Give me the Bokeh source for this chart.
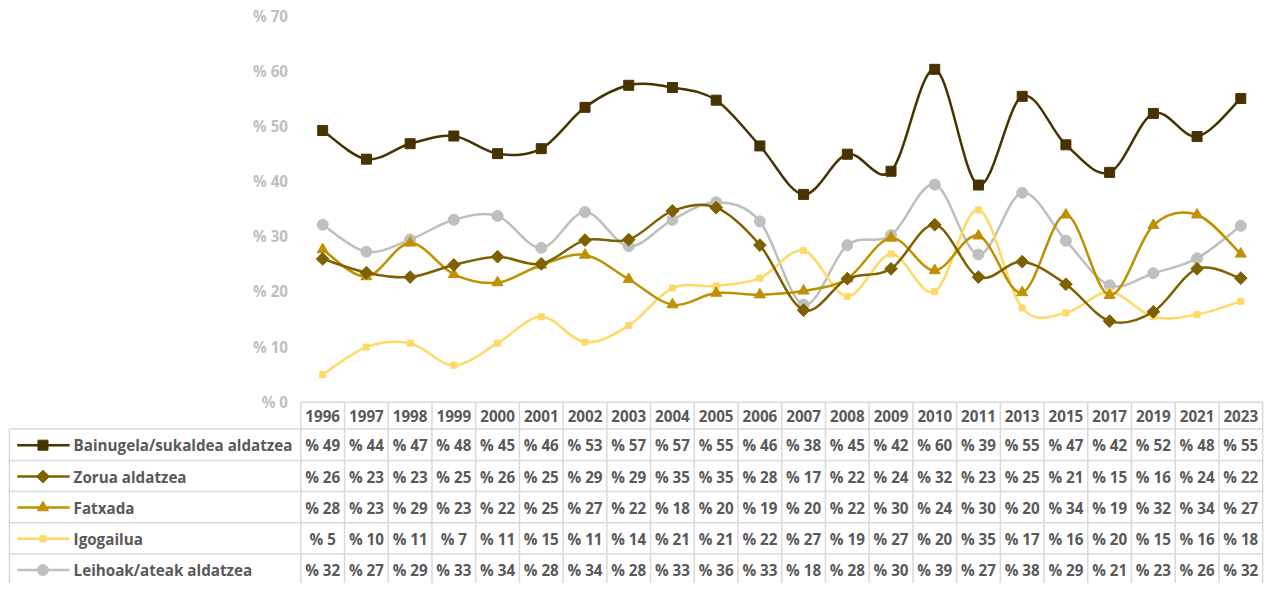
import numpy as np
from bokeh.plotting import figure
from bokeh.models import Range1d, ColumnDataSource
from bokeh.core.properties import value
from bokeh.embed import file_html
from bokeh.resources import INLINE

# ---------------- data ----------------
years = ["1996", "1997", "1998", "1999", "2000", "2001", "2002", "2003", "2004", "2005", "2006",
         "2007", "2008", "2009", "2010", "2011", "2013", "2015", "2017", "2019", "2021", "2023"]

bainugela = [49.2, 44.0, 46.8, 48.2, 45.0, 45.9, 53.4, 57.4, 57.0, 54.7, 46.4,
             37.6, 44.9, 41.8, 60.3, 39.3, 55.4, 46.6, 41.6, 52.3, 48.1, 55.0]
zorua = [25.9, 23.4, 22.6, 24.8, 26.3, 25.0, 29.3, 29.4, 34.6, 35.2, 28.4,
         16.6, 22.3, 24.1, 32.1, 22.6, 25.4, 21.3, 14.6, 16.3, 24.1, 22.4]
fatxada = [27.6, 22.7, 28.8, 23.1, 21.6, 24.8, 26.6, 22.2, 17.6, 19.7, 19.4,
           20.1, 22.3, 29.7, 23.8, 30.1, 19.8, 33.9, 19.3, 32.0, 33.9, 26.8]
igogailua = [4.9, 9.9, 10.6, 6.6, 10.6, 15.4, 10.8, 13.8, 20.6, 21.0, 22.4,
             27.4, 19.1, 26.8, 20.0, 34.8, 17.0, 16.1, 19.9, 15.4, 15.8, 18.2]
leihoak = [32.1, 27.2, 29.4, 33.0, 33.7, 27.9, 34.4, 28.2, 33.0, 36.2, 32.7,
           17.6, 28.4, 30.2, 39.4, 26.7, 37.9, 29.2, 21.1, 23.3, 26.0, 31.9]

series_names = ["Bainugela/sukaldea aldatzea", "Zorua aldatzea", "Fatxada",
                "Igogailua", "Leihoak/ateak aldatzea"]
series_values = [bainugela, zorua, fatxada, igogailua, leihoak]
y_ticks = [0, 10, 20, 30, 40, 50, 60, 70]

# ---------------- styles ----------------
colors = ["#463300", "#7f6000", "#bf9000", "#ffd966", "#bfbfbf"]
markers = ["square", "square", "triangle", "square", "circle"]
marker_sizes = [10, 9, 11, 6, 11]
marker_angles = [0, np.pi / 4, 0, 0, 0]
FONT = value("Open Sans")
FS = "15.2px"
TXT = "#595959"
BORDER = "#d9d9d9"

# ---------------- layout (reference pixel geometry, slightly scaled to fit) ----------------
W, H = 1266, 583
SX, SY = 0.988, 0.98    # shrink factors so the whole table fits the canvas
COL0_CENTER = 326.1     # reference px of first category centre
COL_W = 44.25           # reference px per category
ZERO_Y = 409.3          # reference px of value 0
PX_PER_UNIT = 5.623     # reference px per percent


def xd(px):
    return (px - COL0_CENTER) / COL_W


def yd(py):
    return (ZERO_Y - py) / PX_PER_UNIT


p = figure(width=W, height=H, output_backend="svg", toolbar_location=None,
           x_range=Range1d(xd(0), xd(W / SX)),
           y_range=Range1d(yd(H / SY), yd(0)),
           x_axis_location=None, y_axis_location=None, min_border=0)
p.grid.visible = False
p.outline_line_color = None
p.background_fill_color = "white"
p.border_fill_color = "white"

n = len(years)
xs = np.arange(n)

# ---------------- y tick labels ----------------
p.text(x=[xd(291)] * len(y_ticks), y=y_ticks, text=[f"% {t}" for t in y_ticks],
       text_align="right", text_baseline="middle", text_font=FONT,
       text_font_style="bold", text_font_size=FS, text_color="#bfbfbf")


# ---------------- smoothed lines (Excel style Bezier) ----------------
def bezier_segments(vals):
    v = np.asarray(vals, dtype=float)
    x = xs.astype(float)
    px = np.concatenate([[x[0]], x, [x[-1]]])
    pv = np.concatenate([[v[0]], v, [v[-1]]])
    x0, y0 = x[:-1], v[:-1]
    x1, y1 = x[1:], v[1:]
    cx0 = x0 + (px[2:-1] - px[0:-3]) / 6.0
    cy0 = y0 + (pv[2:-1] - pv[0:-3]) / 6.0
    cx1 = x1 - (px[3:] - px[1:-2]) / 6.0
    cy1 = y1 - (pv[3:] - pv[1:-2]) / 6.0
    return dict(x0=x0, y0=y0, x1=x1, y1=y1, cx0=cx0, cy0=cy0, cx1=cx1, cy1=cy1)


draw_order = [4, 3, 2, 1, 0]
for k in draw_order:
    vals = series_values[k]
    src = ColumnDataSource(bezier_segments(vals))
    p.bezier(x0="x0", y0="y0", x1="x1", y1="y1", cx0="cx0", cy0="cy0", cx1="cx1", cy1="cy1",
             source=src, line_color=colors[k], line_width=2.5)
    p.scatter(x=xs, y=vals, marker=markers[k], size=marker_sizes[k], angle=marker_angles[k],
              fill_color=colors[k], line_color=colors[k])

# ---------------- data table ----------------
HEADER_TOP = 410.0
ROW_TOPS = [437.3, 469.3, 501.0, 532.8, 564.7]
ROW_H = 31.9
TABLE_LEFT = 9.0
FIRST_COL_LEFT = COL0_CENTER - COL_W / 2
BOTTOM = 600.0
RIGHT = FIRST_COL_LEFT + COL_W * n

# horizontal borders
hx0 = [xd(FIRST_COL_LEFT)] + [xd(TABLE_LEFT)] * len(ROW_TOPS)
hx1 = [xd(RIGHT)] * (len(ROW_TOPS) + 1)
hy = [yd(HEADER_TOP)] + [yd(t) for t in ROW_TOPS]
p.segment(x0=hx0, y0=hy, x1=hx1, y1=hy, line_color=BORDER, line_width=1.5)
# vertical borders
vx = [xd(TABLE_LEFT)] + [xd(FIRST_COL_LEFT + COL_W * i) for i in range(n + 1)]
vy0 = [yd(ROW_TOPS[0])] + [yd(HEADER_TOP)] * (n + 1)
vy1 = [yd(BOTTOM)] * (n + 2)
p.segment(x0=vx, y0=vy0, x1=vx, y1=vy1, line_color=BORDER, line_width=1.5)

# header years
p.text(x=xs, y=[yd((HEADER_TOP + ROW_TOPS[0]) / 2 + 0.5)] * n, text=years,
       text_align="center", text_baseline="middle", text_font=FONT,
       text_font_style="bold", text_font_size=FS, text_color=TXT)

# rows
for r, (name, vals) in enumerate(zip(series_names, series_values)):
    cy = yd(ROW_TOPS[r] + ROW_H / 2 + 0.5)
    p.text(x=xs, y=[cy] * n, text=[f"% {round(v)}" for v in vals],
           text_align="center", text_baseline="middle", text_font=FONT,
           text_font_style="bold", text_font_size=FS, text_color=TXT)
    # legend key
    p.segment(x0=[xd(17)], y0=[cy], x1=[xd(70)], y1=[cy], line_color=colors[r], line_width=2.5)
    p.scatter(x=[xd(43)], y=[cy], marker=markers[r], size=marker_sizes[r],
              angle=marker_angles[r], fill_color=colors[r], line_color=colors[r])
    p.text(x=[xd(74)], y=[cy], text=[name], text_align="left", text_baseline="middle",
           text_font=FONT, text_font_style="bold", text_font_size=FS, text_color=TXT)

open("out.html", "w").write(file_html(p, INLINE))
